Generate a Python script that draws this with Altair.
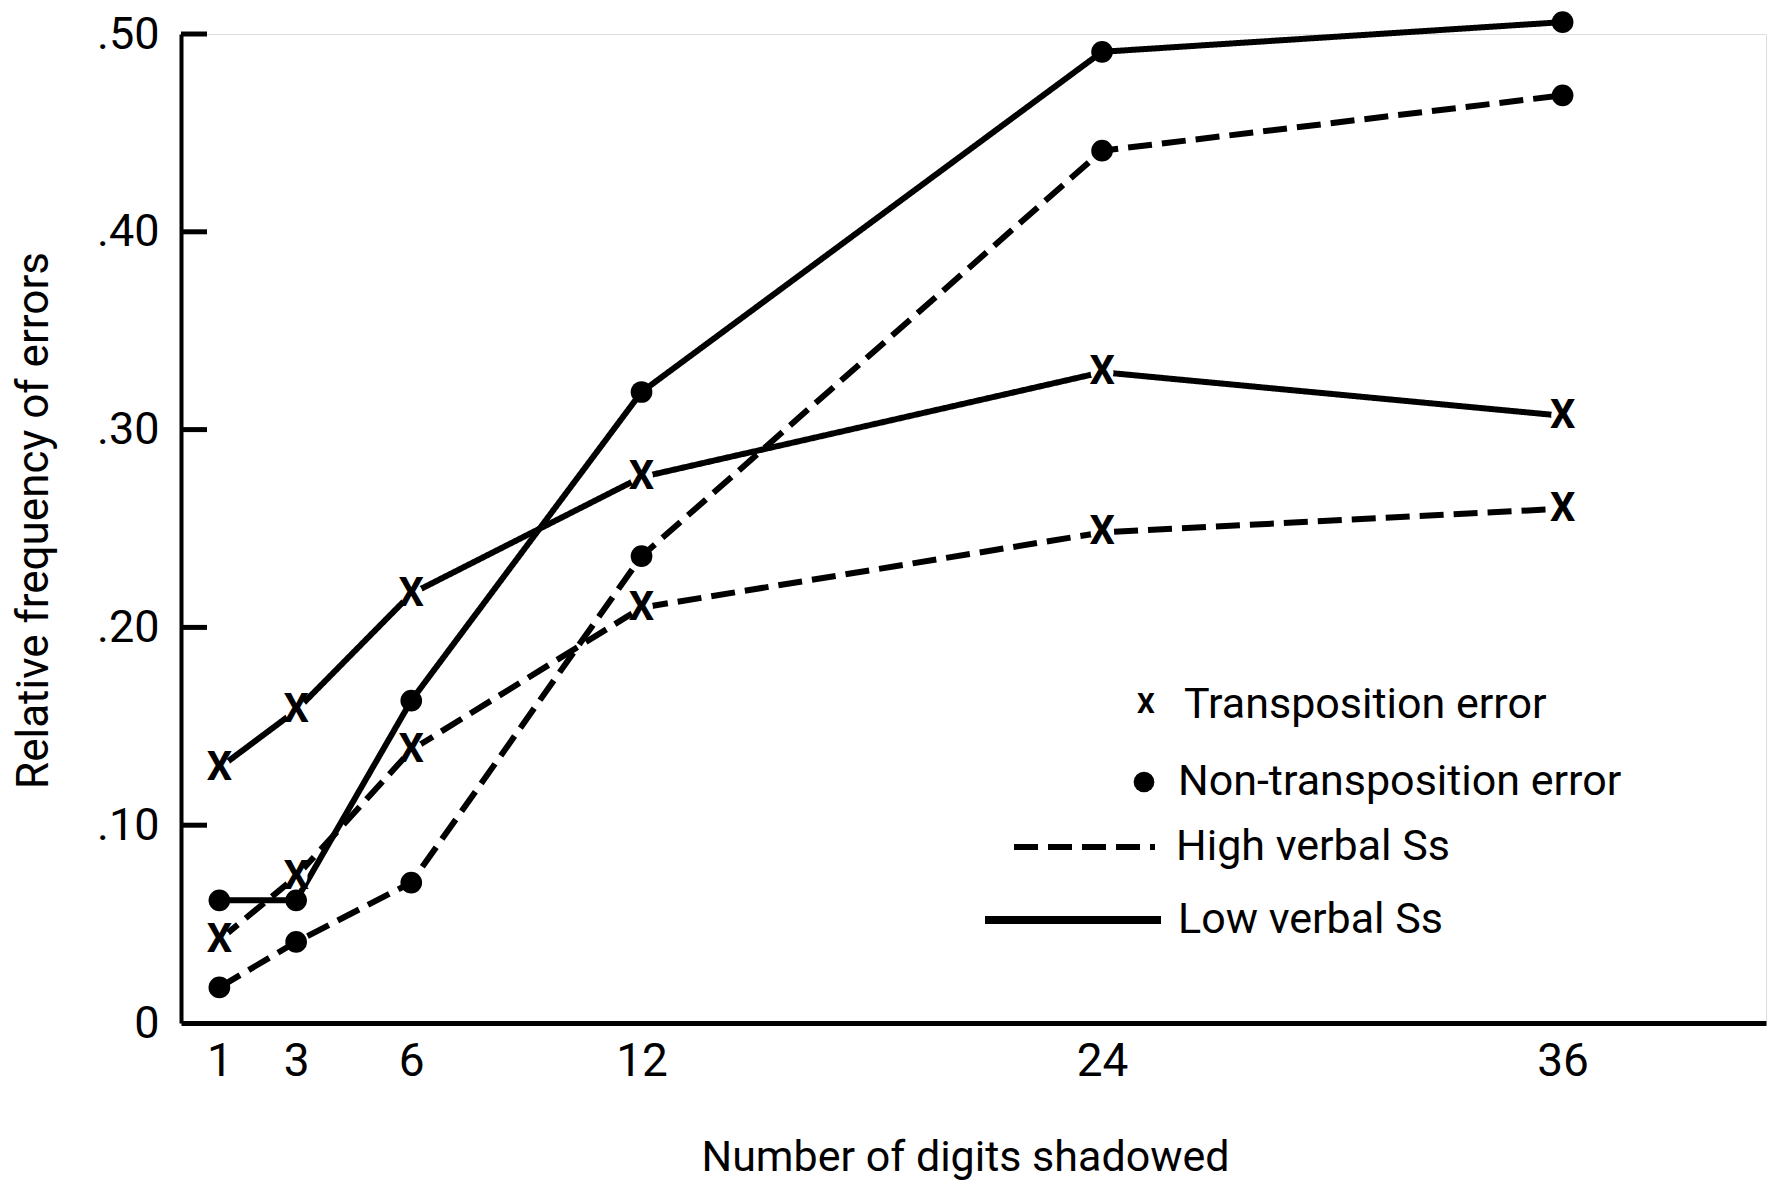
import altair as alt
import pandas as pd

# ---- data ----
digits = [1, 3, 6, 12, 24, 36]
low_trans = [0.129, 0.158, 0.217, 0.276, 0.329, 0.307]
low_nontrans = [0.062, 0.062, 0.163, 0.319, 0.491, 0.506]
high_trans = [0.042, 0.074, 0.138, 0.210, 0.248, 0.260]
high_nontrans = [0.018, 0.041, 0.071, 0.236, 0.441, 0.469]
y_ticks = [0.10, 0.20, 0.30, 0.40, 0.50]
y_labels = [0, 0.10, 0.20, 0.30, 0.40, 0.50]

FONT = "Roboto, sans-serif"

rows = []
for verbal, etype, vals in [
    ("Low", "Transposition", low_trans),
    ("Low", "Non-transposition", low_nontrans),
    ("High", "Transposition", high_trans),
    ("High", "Non-transposition", high_nontrans),
]:
    for d, v in zip(digits, vals):
        rows.append({"digits": d, "freq": v, "verbal": verbal, "etype": etype,
                     "series": verbal + " " + etype})
df = pd.DataFrame(rows)

xscale = alt.Scale(domain=[0, 41.3], nice=False, zero=False)
yscale = alt.Scale(domain=[0, 0.5], nice=False)

X = alt.X("digits:Q", scale=xscale,
          axis=alt.Axis(values=digits, ticks=False, grid=False,
                        domainColor="black", domainWidth=5,
                        labelFontSize=46, labelPadding=16, labelFont=FONT,
                        labelColor="black", labelFlush=False,
                        title="Number of digits shadowed", titleFont=FONT,
                        titleFontSize=43, titleFontWeight="normal",
                        titleColor="black", titleX=784, titleY=134,
                        titleAlign="center", titleBaseline="middle"))
Y = alt.Y("freq:Q", scale=yscale,
          axis=alt.Axis(values=y_labels, ticks=False, grid=False,
                        domainColor="black", domainWidth=4,
                        labelFontSize=45, labelPadding=22, labelFont=FONT,
                        labelColor="black",
                        labelExpr="datum.value == 0 ? '0' : replace(format(datum.value, '.2f'), '0.', '.')",
                        title="Relative frequency of errors", titleFont=FONT,
                        titleFontSize=44, titleFontWeight="normal",
                        titleColor="black", titleX=-147, titleY=486,
                        titleAngle=-90, titleAlign="center",
                        titleBaseline="middle"))

base = alt.Chart(df)

lines = base.mark_line(strokeWidth=6, color="black").encode(
    x=X, y=Y, detail="series:N",
    strokeDash=alt.StrokeDash("verbal:N",
                              scale=alt.Scale(domain=["High", "Low"],
                                              range=[[24, 10], [1, 0]]),
                              legend=None),
)

halos = base.transform_filter(alt.datum.etype == "Transposition").mark_circle(
    color="white", opacity=1, size=520).encode(x=X, y=Y)

dots = base.transform_filter(alt.datum.etype == "Non-transposition").mark_circle(
    color="black", opacity=1, size=470).encode(x=X, y=Y)

xs = base.transform_filter(alt.datum.etype == "Transposition").mark_text(
    text="X", font=FONT, fontSize=40, fontWeight="bold", color="black",
    align="center", baseline="middle").encode(x=X, y=Y)

tick_df = pd.DataFrame({"freq": y_ticks})
ticks = alt.Chart(tick_df).mark_rule(color="black", strokeWidth=5).encode(
    y=alt.Y("freq:Q", scale=yscale), x=alt.value(0), x2=alt.value(26))

one = pd.DataFrame({"k": [0]})

def legend_text(label, px, py):
    return alt.Chart(one).mark_text(
        text=label, font=FONT, fontSize=43, color="black",
        align="left", baseline="middle").encode(x=alt.value(px), y=alt.value(py))

leg_x = alt.Chart(one).mark_text(
    text="X", font=FONT, fontSize=28, fontWeight="bold", color="black",
    align="center", baseline="middle").encode(x=alt.value(965), y=alt.value(671))
leg_dot = alt.Chart(one).mark_circle(color="black", opacity=1, size=430).encode(
    x=alt.value(963), y=alt.value(748))
leg_dash = alt.Chart(one).mark_rule(color="black", strokeWidth=6,
                                    strokeDash=[24, 10]).encode(
    x=alt.value(833), x2=alt.value(974), y=alt.value(813))
leg_solid = alt.Chart(one).mark_rule(color="black", strokeWidth=8).encode(
    x=alt.value(804), x2=alt.value(980), y=alt.value(886))

chart = alt.layer(
    lines, halos, dots, xs, ticks,
    leg_x, leg_dot, leg_dash, leg_solid,
    legend_text("Transposition error", 1003, 671),
    legend_text("Non-transposition error", 997, 748),
    legend_text("High verbal Ss", 995, 813),
    legend_text("Low verbal Ss", 997, 886),
).properties(
    width=1585, height=989,
    autosize=alt.AutoSizeParams(type="none"),
    padding={"left": 173, "top": 26, "right": 2, "bottom": 164},
    background="white",
).configure_view(stroke=None).configure(font=FONT)

chart.save("out.html", embed_options={"renderer": "svg", "actions": False})
